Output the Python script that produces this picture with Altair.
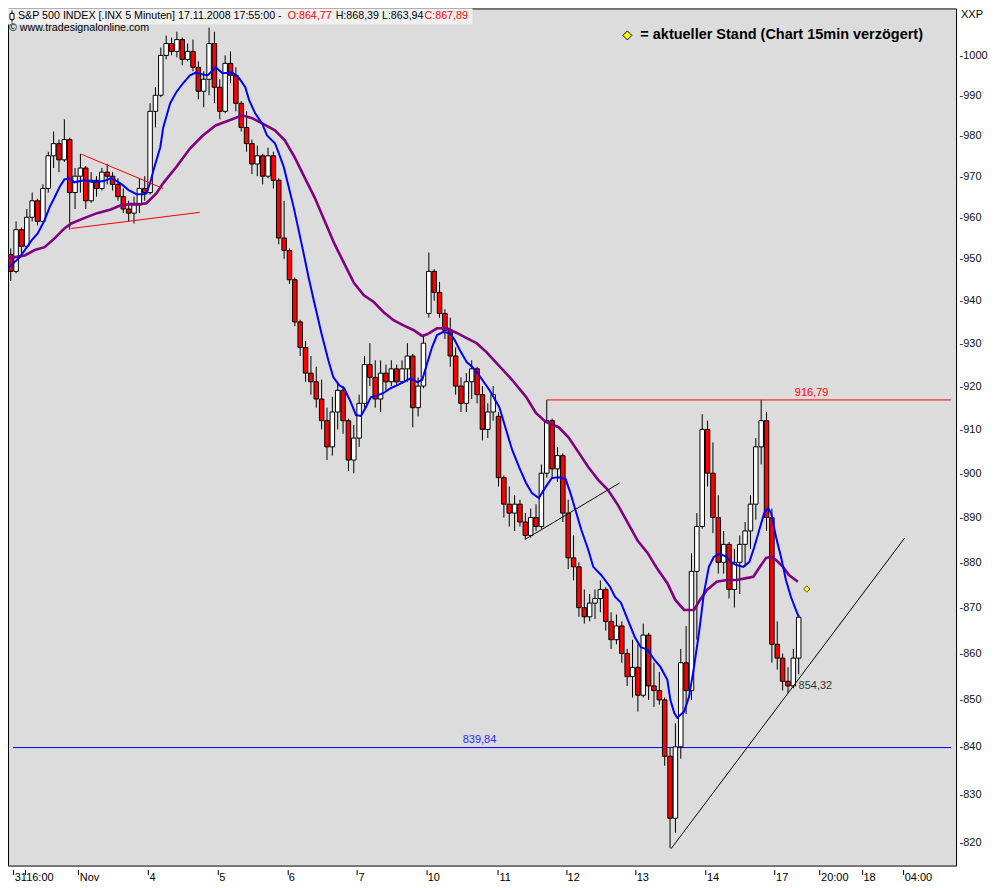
import altair as alt
import pandas as pd

FONT = "Liberation Sans"

# ---------------- 30-minute candles (13 per session) ----------------
opens = [951, 947, 957, 953, 960, 964, 959, 967, 975, 978, 974, 979, 966,          # Oct 31
         970, 972, 964, 969, 967, 971, 970, 968, 965, 962, 961, 963, 967,          # Nov 3
         966, 986, 990, 1000, 1003, 1001, 1004, 999, 1001, 997, 991, 994, 1003,    # Nov 4
         992, 986, 998, 995, 988, 982, 978, 973, 975, 970, 975, 969, 955,          # Nov 5
         952, 945, 935, 929, 923, 921, 917, 912, 906, 914, 919, 912, 903,          # Nov 6
         908, 916, 925, 922, 917, 923, 921, 924, 921, 924, 927, 915, 920,          # Nov 7
         937, 947, 942, 937, 933, 927, 920, 916, 921, 924, 918, 910, 914,          # Nov 10
         913, 899, 893, 891, 893, 889, 886, 890, 888, 900, 912, 901, 904,          # Nov 11
         891, 881, 879, 870, 868, 871, 872, 874, 867, 863, 866, 860, 855,          # Nov 12
         857, 851, 864, 853, 852, 850, 838, 825, 840, 858, 852, 878, 888,          # Nov 13
         910, 900, 890, 880, 884, 874, 880, 884, 887, 893, 906, 912, 890,          # Nov 14
         862, 859, 854, 853, 859]                                                  # Nov 17
highs = [952.5, 959, 957.5, 962, 966, 964.5, 968, 976, 981, 979, 984, 979.5, 972,
         975.5, 972.5, 971, 970, 972, 973, 971, 969.5, 967, 964, 965, 969.5, 970,
         988, 992, 1002, 1005, 1004.5, 1006, 1004.5, 1003, 1004, 998.5, 996, 1007, 1006,
         994, 1000, 1001, 997, 988.5, 986, 979, 977.5, 975.5, 977, 976, 969.5, 964,
         952.5, 945.5, 935.5, 930.5, 927, 924.5, 921.5, 915, 917.5, 921, 920, 912.5, 911,
         918, 927, 930, 926, 926, 925, 926, 925, 926, 930, 927.5, 922, 932,
         951.5, 947.5, 944.5, 938, 936, 929, 922, 923, 926, 924.5, 920, 916, 920,
         914, 899.5, 897, 895, 894, 891, 892, 893, 902, 916.8, 912.5, 906, 904.5,
         894, 886, 880, 874, 873, 874, 876, 874.5, 869, 868.5, 867, 861, 863,
         862, 866.5, 864.5, 858, 856, 850.5, 840, 845, 861, 866, 882, 891, 913.5,
         912, 907, 895, 887, 884.5, 883, 886, 889, 895, 908, 916.8, 914, 892,
         867, 860, 857, 861, 868.4]
lows = [944.7, 946.5, 951, 952.5, 959, 958, 958.5, 966, 972, 971, 973.5, 957, 962,
        966, 962, 963.5, 965, 966.5, 968, 966.5, 964, 961, 959, 958.5, 961, 964,
        965.5, 982, 989.5, 999, 1000, 999.5, 997.5, 998.5, 996, 989, 987, 990, 988,
        984, 985.5, 993, 986, 981, 976, 970.5, 970, 968, 969.5, 967, 953.5, 950,
        944, 934, 927, 921, 918, 915, 910, 903, 904, 910, 909, 900.5, 900,
        906, 915, 920, 915, 914, 919, 920, 920, 920.5, 921, 910.5, 913, 919.5,
        936, 940, 936, 931, 924.5, 918, 914, 914, 917, 916, 907.5, 908, 912,
        897, 890, 888, 887, 888, 885, 885.5, 887, 887.5, 899, 899, 898, 889,
        878.5, 876, 868, 866.5, 867, 867.5, 869, 865, 861, 862, 858, 853, 850.5,
        847.5, 850.5, 850, 848.5, 849, 836, 818.8, 822, 837.5, 847, 850, 863, 887.5,
        897, 886.5, 877.5, 877.5, 872, 870, 873, 879, 883, 889.5, 902, 887, 858,
        856.5, 852, 851.5, 852.5, 855.5]
closes = [947, 957, 953, 960, 964, 959, 967, 975, 978, 974, 979, 966, 970,
          972, 964, 969, 967, 971, 970, 968, 965, 962, 961, 963, 967, 966,
          986, 990, 1000, 1003, 1001, 1004, 999, 1001, 997, 991, 994, 1003, 992,
          986, 998, 995, 988, 982, 978, 973, 975, 970, 975, 969, 955, 952,
          945, 935, 929, 923, 921, 917, 912, 906, 914, 919, 912, 903, 908,
          916, 925, 922, 917, 923, 921, 924, 921, 924, 927, 915, 920, 930,
          947, 942, 937, 933, 927, 920, 916, 921, 924, 918, 910, 914, 918,
          899, 893, 891, 893, 889, 886, 890, 888, 900, 912, 901, 904, 891,
          881, 879, 870, 868, 871, 872, 874, 867, 863, 866, 860, 855, 857,
          851, 864, 853, 852, 850, 838, 825, 840, 858, 852, 878, 888, 910,
          900, 890, 880, 884, 874, 880, 884, 887, 893, 906, 912, 890, 862,
          859, 854, 853, 859, 867.9]

# ---------------- moving averages (candle index, price) ----------------
blue_pts = [(0, 947.7), (0.92, 948.9), (2.21, 950.4), (3.13, 952.1), (4.43, 954.5), (5.53, 956.1),
            (6.82, 959.3), (7.74, 962.4), (8.67, 964.8), (9.59, 967.3), (10.51, 969.2), (11.43, 969.5),
            (12.35, 968.5), (14.2, 969.0), (16.04, 968.5), (17.89, 968.8), (19.18, 969.5), (20.28, 968.8),
            (21.21, 968.0), (22.5, 966.6), (23.97, 965.6), (25.26, 965.6), (25.82, 965.8), (26.55, 968.5),
            (27.11, 971.4), (28.4, 977.1), (28.95, 982.0), (30.24, 988.0), (31.35, 990.7), (32.64, 993.0),
            (33.93, 995.0), (35.04, 995.7), (36.33, 995.2), (37.25, 995.0), (38.17, 996.2), (38.72, 997.0),
            (40.01, 995.5), (41.85, 995.7), (43.15, 994.2), (44.26, 992.0), (44.99, 988.7), (46.1, 985.5),
            (47.39, 983.0), (48.31, 980.0), (49.79, 978.1), (50.52, 975.6), (51.45, 972.2), (52.37, 967.3),
            (53.29, 962.4), (54.21, 956.9), (55.14, 951.3), (56.06, 945.6), (57.16, 939.4), (58.45, 932.4),
            (59.75, 926.0), (60.67, 922.1), (61.77, 920.2), (62.7, 919.5), (63.99, 916.1), (64.91, 913.3),
            (65.83, 913.1), (66.75, 915.1), (67.67, 917.4), (68.97, 917.9), (70.07, 918.4), (71.36, 919.5),
            (72.65, 920.2), (73.76, 920.9), (75.05, 921.8), (76.34, 920.9), (77.26, 921.4), (78.19, 925.3),
            (79.11, 929.1), (80.03, 931.9), (81.14, 932.6), (82.43, 932.4), (83.35, 930.7), (84.27, 928.4),
            (85.56, 925.6), (86.67, 924.4), (87.59, 923.0), (88.88, 920.7), (89.8, 919.1), (91.65, 915.1),
            (92.94, 909.8), (94.05, 905.3), (95.34, 901.4), (96.63, 897.8), (97.73, 895.5), (99.02, 894.4),
            (100.31, 896.9), (101.42, 898.9), (102.71, 899.1), (104.0, 898.7), (104.92, 895.5), (105.85, 891.7),
            (106.95, 887.2), (108.24, 882.8), (109.17, 879.0), (110.64, 877.2), (112.3, 874.6), (113.22, 872.4),
            (114.33, 871.1), (115.62, 867.3), (116.91, 863.6), (118.02, 861.4), (119.31, 860.8), (120.6, 858.6),
            (121.7, 857.1), (123.0, 854.3), (123.55, 850.0), (124.29, 847.2), (124.84, 846.2), (126.13, 847.5),
            (127.05, 850.7), (127.97, 857.1), (128.9, 864.5), (129.82, 873.2), (130.74, 879.0), (131.66, 881.2),
            (132.77, 881.9), (134.06, 881.2), (134.98, 879.9), (135.9, 879.4), (137.19, 879.0), (138.3, 880.1),
            (139.22, 883.4), (140.14, 887.2), (141.07, 891.0), (141.8, 892.1), (142.36, 891.0), (143.28, 885.6),
            (144.2, 881.2), (145.12, 876.1), (146.04, 872.4), (146.97, 869.5), (147.52, 868.0)]
purple_pts = [(0, 950.1), (1.29, 950.4), (3.13, 950.8), (4.98, 952.1), (6.82, 952.8), (8.67, 954.9),
              (10.51, 957.3), (11.8, 958.5), (14.2, 959.8), (16.6, 961.0), (19.18, 961.9), (21.02, 962.9),
              (22.87, 963.2), (24.71, 963.2), (25.82, 963.4), (27.66, 965.8), (28.95, 968.3), (31.35, 972.2),
              (33.93, 976.8), (36.33, 980.0), (38.72, 982.5), (41.31, 983.8), (43.7, 985.0), (45.55, 984.3),
              (47.39, 983.0), (49.79, 981.3), (51.63, 978.8), (53.48, 974.6), (55.32, 969.7), (57.16, 964.9),
              (59.01, 959.3), (60.85, 953.7), (62.7, 948.9), (64.54, 944.2), (66.38, 941.3), (68.23, 939.7),
              (70.07, 937.3), (71.92, 935.4), (73.76, 934.2), (75.6, 933.1), (77.26, 931.7), (78.19, 932.1),
              (80.03, 933.5), (81.87, 933.5), (83.72, 932.4), (85.56, 931.2), (87.41, 930.0), (89.25, 927.9),
              (94.05, 921.4), (96.63, 917.5), (98.47, 913.8), (100.31, 911.7), (102.71, 910.5), (104.55, 908.2),
              (106.4, 904.8), (108.24, 901.4), (110.09, 898.5), (111.93, 896.2), (113.78, 892.8), (115.62, 888.8),
              (117.47, 884.8), (119.31, 882.1), (121.15, 878.5), (123.0, 875.4), (124.48, 871.7), (126.13, 869.5),
              (127.97, 869.5), (129.08, 871.7), (130.37, 873.9), (132.21, 875.7), (134.06, 876.1), (135.9, 876.1),
              (137.75, 876.5), (139.04, 876.8), (140.14, 878.8), (141.43, 881.0), (142.36, 881.2), (143.28, 880.5),
              (144.57, 879.0), (145.68, 877.2), (147.34, 875.7)]

# ---------------- drawn trend lines ----------------
trend_id = ["t1", "t1", "t2", "t2", "t3", "t3", "t4", "t4"]
trend_u = [13.65, 28.95, 11.8, 35.77, 96.6, 114.1, 123.7, 167.25]
trend_p = [975.4, 967.0, 957.3, 961.2, 885.2, 897.8, 818.7, 885.4]
trend_col = ["#ff0000", "#ff0000", "#ff0000", "#ff0000", "#000000", "#000000", "#000000", "#000000"]

# horizontal levels
level_p = [916.79, 839.84]
level_u0 = [100.5, 0.922]
level_u1 = [175.92, 175.92]
level_col = ["#ff0000", "#0000ff"]

# value labels
label_txt = ["916,79", "839,84", "854,32"]
label_u = [149.9, 87.96, 150.6]
label_p = [918.5, 841.5, 853.0]
label_col = ["#ff0000", "#2a2aff", "#333333"]

# current quote marker
cur_u = [149.0]
cur_p = [874.1]

# x-axis ticks (candle index units) and labels
tick_u = [0.95, 3.1, 13.1, 26.1, 39.1, 52.1, 65.1, 78.0, 91.4, 104.1, 117.0, 130.1, 143.0, 151.4, 159.3, 167.0]
tick_lab = ["31", "16:00", "Nov", "4", "5", "6", "7", "10", "11", "12", "13", "14", "17", "20:00", "18", "04:00"]
y_ticks = list(range(820, 1001, 10))

X_DOMAIN = [0.922, 175.92]
Y_DOMAIN = [815.22, 1011.91]
W, H = 949, 858

# ---------------- frames ----------------
cdf = pd.DataFrame({"u": [i + 0.5 for i in range(len(opens))], "open": opens, "high": highs,
                    "low": lows, "close": closes})
cdf["dir"] = ["down" if c < o else "up" for o, c in zip(opens, closes)]
bdf = pd.DataFrame(blue_pts, columns=["u", "p"])
pdf = pd.DataFrame(purple_pts, columns=["u", "p"])
tdf = pd.DataFrame({"id": trend_id, "u": trend_u, "p": trend_p, "col": trend_col})
ldf = pd.DataFrame({"p": level_p, "u0": level_u0, "u1": level_u1, "col": level_col})
lab = pd.DataFrame({"t": label_txt, "u": label_u, "p": label_p, "col": label_col})
cur = pd.DataFrame({"u": cur_u, "p": cur_p})
one = pd.DataFrame({"a": [0]})

xs = alt.Scale(domain=X_DOMAIN, nice=False, zero=False)
ys = alt.Scale(type="log", domain=Y_DOMAIN, nice=False, zero=False)

expr = " : ".join(f"abs(datum.value - ({u})) < 0.01 ? '{l}'" for u, l in zip(tick_u, tick_lab)) + " : ''"

x_axis = alt.Axis(orient="bottom", values=tick_u, labelExpr=expr, domain=False, grid=False,
                  tickSize=9, tickDash=[0, 4, 5, 100], tickColor="black", labelAlign="left",
                  labelBaseline="top", labelPadding=-3, labelOffset=1, labelFont=FONT, labelFontSize=11,
                  labelColor="black", labelOverlap=False, labelFlush=False, labelBound=False, title=None)
y_axis = alt.Axis(orient="right", values=y_ticks, format="d", labelExpr="'-' + datum.label",
                  ticks=False, domain=False, grid=False, labelPadding=3, labelFont=FONT,
                  labelFontSize=11, labelColor="#111111", title=None)

# every layer shares the same explicit axis definition so the merged axis is kept
X = lambda f: alt.X(f, type="quantitative", scale=xs, axis=x_axis)
Y = lambda f: alt.Y(f, type="quantitative", scale=ys, axis=y_axis)

levels = alt.Chart(ldf).mark_rule(strokeWidth=1).encode(
    x=X("u0"), x2="u1", y=Y("p"), color=alt.Color("col:N", scale=None))

wick = alt.Chart(cdf).mark_rule(color="black", strokeWidth=1).encode(
    x=X("u"), y=Y("low"), y2="high")

body = alt.Chart(cdf).mark_bar(size=4.5, stroke="black", strokeWidth=1).encode(
    x=X("u"), y=Y("open"), y2="close",
    fill=alt.Fill("dir:N", scale=alt.Scale(domain=["down", "up"], range=["#ff0000", "#ffffff"]), legend=None))

purple = alt.Chart(pdf).mark_line(color="#800080", strokeWidth=2.6).encode(x=X("u"), y=Y("p"), order="u:Q")
blue = alt.Chart(bdf).mark_line(color="#0000ff", strokeWidth=2).encode(x=X("u"), y=Y("p"), order="u:Q")

trends = alt.Chart(tdf).mark_line(strokeWidth=1).encode(
    x=X("u"), y=Y("p"), detail="id:N", color=alt.Color("col:N", scale=None))

labels = alt.Chart(lab).mark_text(font=FONT, fontSize=11, align="center", baseline="middle").encode(
    x=X("u"), y=Y("p"), text="t:N", color=alt.Color("col:N", scale=None))

current = alt.Chart(cur).mark_point(shape="diamond", filled=True, fill="#ffff00", stroke="#333300",
                                    strokeWidth=0.8, size=40, opacity=1).encode(x=X("u"), y=Y("p"))

# ---------------- header / annotations (pixel placed) ----------------
hdr_box = alt.Chart(one).mark_rect(fill="#f0f0f0").encode(
    x=alt.value(0), x2=alt.value(465), y=alt.value(0), y2=alt.value(16))
icon_line = alt.Chart(one).mark_rule(color="black", strokeWidth=1).encode(
    x=alt.value(4), y=alt.value(2), y2=alt.value(14))
icon_box = alt.Chart(one).mark_rect(fill="white", stroke="black", strokeWidth=1).encode(
    x=alt.value(2), x2=alt.value(6), y=alt.value(5), y2=alt.value(11))

def ptext(txt, x, y, color="black", size=10.7, weight="normal", baseline="middle"):
    return alt.Chart(one).mark_text(text=txt, font=FONT, fontSize=size, fontWeight=weight,
                                    align="left", baseline=baseline, color=color).encode(
        x=alt.value(x), y=alt.value(y))

hdr = [
    ptext("S&P 500 INDEX [.INX  5 Minuten] 17.11.2008 17:55:00 -", 10, 8),
    ptext("O:864,77", 280, 8, "#ff0000"),
    ptext("H:868,39 L:863,94", 328, 8),
    ptext("C:867,89", 417, 8, "#ff0000"),
    ptext("\u00a9 www.tradesignalonline.com", 1, 20),
    ptext("= aktueller Stand (Chart 15min verzögert)", 633, 27, size=14.5, weight="bold"),
    ptext("XXP", 954, 1, size=11, baseline="top"),
]
legend_diamond = alt.Chart(one).mark_point(shape="diamond", filled=True, fill="#ffff00", stroke="black",
                                           strokeWidth=1, size=80, opacity=1).encode(
    x=alt.value(620), y=alt.value(27))

chart = alt.layer(
    wick, levels, body, purple, blue, trends, labels, current,
    hdr_box, icon_line, icon_box, *hdr, legend_diamond
).properties(
    width=W, height=H,
    padding={"left": 0, "top": 0, "right": 35, "bottom": 18},
    autosize=alt.AutoSizeParams(type="none"),
    background="white",
).configure_view(fill="#dcdcdc", stroke="black", strokeWidth=1)

chart.save("out.html", embed_options={"renderer": "svg", "actions": False})
